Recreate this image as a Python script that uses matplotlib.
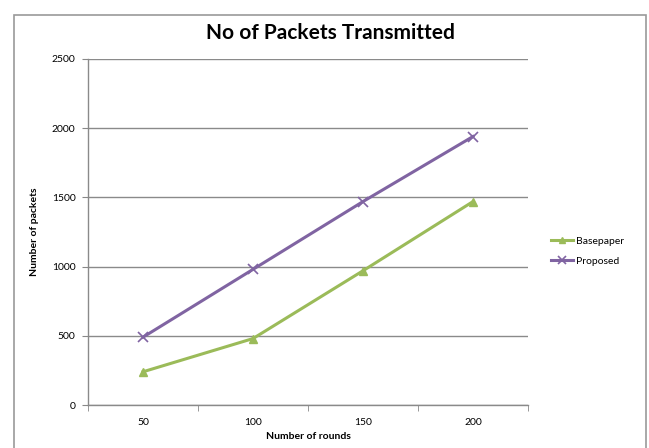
import matplotlib
matplotlib.use("Agg")
import matplotlib.pyplot as plt
from matplotlib.patches import Rectangle

rounds = ["50", "100", "150", "200"]
basepaper = [240, 480, 970, 1470]
proposed = [490, 980, 1470, 1940]
y_ticks = [0, 500, 1000, 1500, 2000, 2500]

plt.rcParams['font.family'] = ['Lato', 'DejaVu Sans']

W, H = 649, 448
fig = plt.figure(figsize=(W / 100, H / 100), dpi=100)
fig.patch.set_facecolor("white")

# chart frame
fig.patches.append(Rectangle((14 / W, -0.01), (646 - 14) / W, (H - 15) / H + 0.01,
                             transform=fig.transFigure, fill=False,
                             edgecolor="#9a9a9a", linewidth=1.2))

left, right, top, bottom = 88, 528, 59, 405
ax = fig.add_axes([left / W, (H - bottom) / H, (right - left) / W, (bottom - top) / H])

x = list(range(len(rounds)))
ax.plot(x, basepaper, color="#9BBB59", linewidth=2.2, marker="^", markersize=6,
        label="Basepaper", zorder=3)
ax.plot(x, proposed, color="#8064A2", linewidth=2.2, marker="x", markersize=7,
        markeredgewidth=1.2, label="Proposed", zorder=3)

ax.set_xlim(-0.5, len(rounds) - 0.5)
ax.set_ylim(0, 2500)
ax.set_yticks(y_ticks)
ax.set_yticklabels([str(v) for v in y_ticks], fontsize=7.5)
ax.set_xticks(x)
ax.set_xticklabels(rounds, fontsize=7.5)
ax.set_xticks([i - 0.5 for i in range(len(rounds) + 1)], minor=True)
ax.tick_params(axis="x", which="major", length=0, pad=9)
ax.tick_params(axis="x", which="minor", length=4, color="#888888", direction="out")
ax.tick_params(axis="y", length=4, color="#888888", direction="out", pad=5)

ax.grid(axis="y", color="#8a8a8a", linewidth=1.0)
ax.set_axisbelow(True)
for s in ["top", "right"]:
    ax.spines[s].set_visible(False)
for s in ["left", "bottom"]:
    ax.spines[s].set_color("#8a8a8a")
    ax.spines[s].set_linewidth(1.0)

ax.set_xlabel("Number of rounds", fontsize=7.5, fontweight="bold", labelpad=4)
ax.set_ylabel("Number of packets", fontsize=7.5, fontweight="bold", labelpad=9)
fig.text(330 / W, 1 - 33 / H, "No of Packets Transmitted", ha="center", va="center",
         fontsize=15, fontweight="bold")

leg = ax.legend(loc="center left", bbox_to_anchor=(1.03, 0.445), frameon=False,
                fontsize=7.5, handlelength=2.2, handletextpad=0.2, labelspacing=1.05,
                markerscale=0.8)

fig.savefig("out.png", dpi=100, facecolor="white")
